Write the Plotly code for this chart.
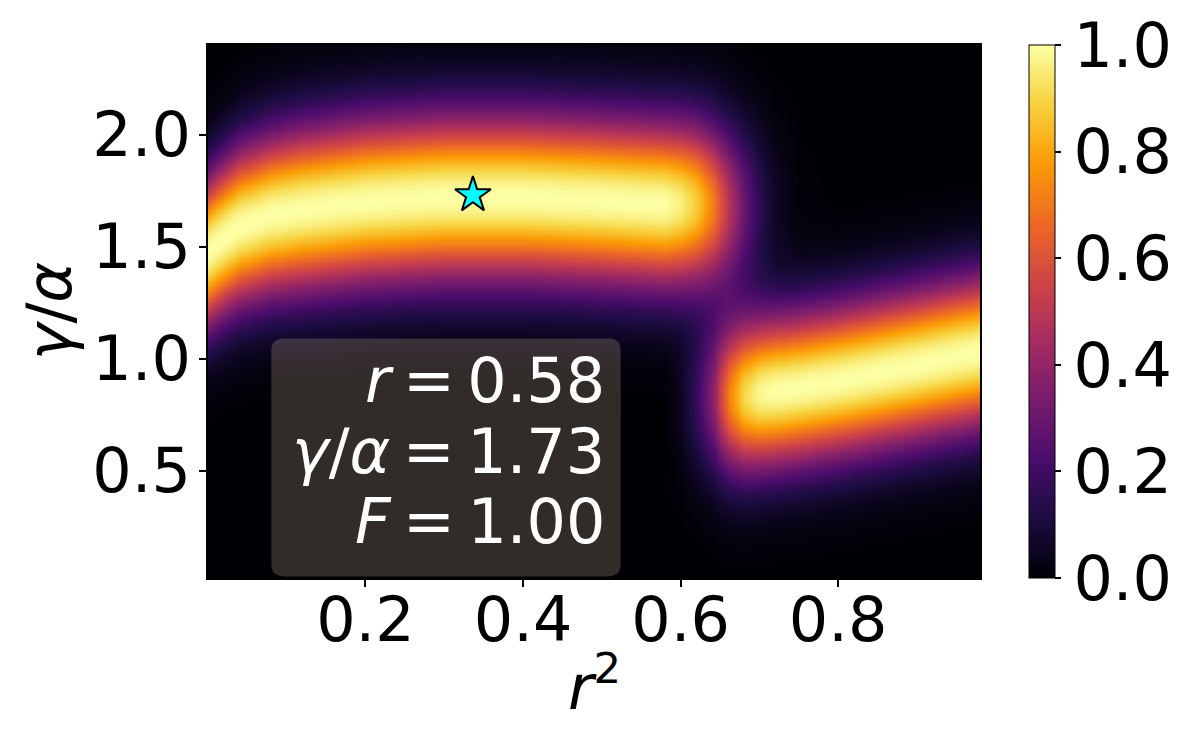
import numpy as np
import plotly.graph_objects as go

# ---- values ----
# sampled r^2 positions at which ridge parameters were read
r2_samples = [0.0, 0.02, 0.04, 0.08, 0.12, 0.2, 0.3, 0.4, 0.5, 0.58, 0.6, 0.62,
              0.64, 0.66, 0.68, 0.70, 0.72, 0.75, 0.8, 0.87, 0.98]
# upper ridge (left band)
band1_center = [1.48, 1.54, 1.59, 1.64, 1.665, 1.70, 1.72, 1.72, 1.705, 1.69, 1.69, 1.69,
                1.685, 1.68, 1.68, 1.68, 1.68, 1.68, 1.68, 1.68, 1.68]
band1_width = [0.23, 0.235, 0.24, 0.245, 0.25, 0.253, 0.254, 0.254, 0.254, 0.254, 0.254, 0.254,
               0.254, 0.254, 0.254, 0.254, 0.254, 0.254, 0.254, 0.254, 0.254]
band1_peak = [1.0, 1.0, 1.0, 1.0, 1.0, 1.0, 1.0, 1.0, 1.0, 1.0, 0.96, 0.88,
              0.72, 0.5, 0.3, 0.15, 0.06, 0.01, 0.0, 0.0, 0.0]
# lower ridge (right band)
band2_center = [0.8, 0.8, 0.8, 0.8, 0.8, 0.8, 0.8, 0.8, 0.8, 0.82, 0.82, 0.825,
                0.828, 0.83, 0.835, 0.845, 0.855, 0.87, 0.9, 0.95, 1.03]
band2_width = [0.24, 0.24, 0.24, 0.24, 0.24, 0.24, 0.24, 0.24, 0.24, 0.24, 0.24, 0.24,
               0.24, 0.238, 0.235, 0.233, 0.232, 0.232, 0.232, 0.232, 0.232]
band2_peak = [0.0, 0.0, 0.0, 0.0, 0.0, 0.0, 0.0, 0.0, 0.0, 0.0, 0.05, 0.17,
              0.36, 0.7, 0.9, 0.98, 1.0, 1.0, 1.0, 1.0, 1.0]

r2_range = [0.0001, 0.9801]
ratio_range = [0.02, 2.40]

best_r = 0.58
best_ratio = 1.73
best_F = 1.00
star_x = [best_r ** 2]
star_y = [best_ratio]

x_ticks = [0.2, 0.4, 0.6, 0.8]
y_ticks = [0.5, 1.0, 1.5, 2.0]
cb_ticks = [0.0, 0.2, 0.4, 0.6, 0.8, 1.0]

# ---- build field on a grid from the read ridge parameters ----
xs = np.linspace(r2_range[0], r2_range[1], 420)
ys = np.linspace(ratio_range[0], ratio_range[1], 320)
X, Y = np.meshgrid(xs, ys)
c1 = np.interp(xs, r2_samples, band1_center)
w1 = np.interp(xs, r2_samples, band1_width)
p1 = np.interp(xs, r2_samples, band1_peak)
c2 = np.interp(xs, r2_samples, band2_center)
w2 = np.interp(xs, r2_samples, band2_width)
p2 = np.interp(xs, r2_samples, band2_peak)
Z = p1 * np.exp(-(Y - c1) ** 2 / (2 * w1 ** 2)) + p2 * np.exp(-(Y - c2) ** 2 / (2 * w2 ** 2))
Z = np.clip(Z, 0, 1)

FONT = "DejaVu Sans"
FS = 62

fig = go.Figure()
fig.add_trace(go.Heatmap(
    x=xs, y=ys, z=Z, zmin=0, zmax=1, colorscale="Inferno", zsmooth="best",
    colorbar=dict(
        x=1.0635, xanchor="left", xref="paper", y=0.5, yanchor="middle", len=1.0,
        thickness=26, thicknessmode="pixels", outlinewidth=1, outlinecolor="black",
        tickvals=cb_ticks, ticktext=[f"{v:.1f}" for v in cb_ticks],
        ticks="outside", ticklen=6, tickwidth=1.5, tickcolor="black",
        tickfont=dict(family=FONT, size=FS, color="black"),
        xpad=0, ypad=0,
    ),
    showscale=True,
))

fig.add_trace(go.Scatter(
    x=star_x, y=star_y, mode="markers",
    marker=dict(symbol="star", size=27, color="cyan", line=dict(color="black", width=2)),
    showlegend=False,
))

# rounded info box
bx0, bx1, by0, by1 = 0.0805, 0.524, 0.027, 1.089
rx, ry = 0.016, 0.055
path = (f"M {bx0+rx},{by0} L {bx1-rx},{by0} Q {bx1},{by0} {bx1},{by0+ry} "
        f"L {bx1},{by1-ry} Q {bx1},{by1} {bx1-rx},{by1} L {bx0+rx},{by1} "
        f"Q {bx0},{by1} {bx0},{by1-ry} L {bx0},{by0+ry} Q {bx0},{by0} {bx0+rx},{by0} Z")
fig.add_shape(type="path", path=path, xref="x", yref="y",
              fillcolor="rgba(245,222,179,0.2)", line=dict(width=0), layer="above")

TS = "\u2009"
lines = [f"<i>r</i>{TS}={TS}{best_r:.2f}", f"<i>γ</i>/<i>α</i>{TS}={TS}{best_ratio:.2f}",
         f"<i>F</i>{TS}={TS}{best_F:.2f}"]
line_y = [0.90, 0.585, 0.272]
for t, yy in zip(lines, line_y):
    fig.add_annotation(x=0.5065, y=yy, xref="x", yref="y", text=t, showarrow=False,
                       xanchor="right", yanchor="middle",
                       font=dict(family=FONT, size=FS, color="white"))

# axis titles
fig.add_annotation(x=0.5, y=-0.197, xref="paper", yref="paper", text="<i>r</i><sup>2</sup>",
                   showarrow=False, xanchor="center", yanchor="middle",
                   font=dict(family=FONT, size=FS, color="black"))
fig.add_annotation(x=-0.205, y=0.5, xref="paper", yref="paper", text="<i>γ</i>/<i>α</i>",
                   showarrow=False, xanchor="center", yanchor="middle", textangle=-90,
                   font=dict(family=FONT, size=FS, color="black"))

axis_common = dict(
    showline=True, linecolor="black", linewidth=1.5, mirror=True,
    ticks="outside", ticklen=7, tickwidth=1.5, tickcolor="black",
    showgrid=False, zeroline=False, automargin=False,
    tickfont=dict(family=FONT, size=FS, color="black"),
)
fig.update_layout(
    width=1200, height=748,
    margin=dict(l=208, r=220, t=45, b=170, autoexpand=False),
    paper_bgcolor="white", plot_bgcolor="black",
    showlegend=False,
    xaxis=dict(range=r2_range, tickvals=x_ticks, ticktext=[f"{v:.1f}" for v in x_ticks],
               ticklabelstandoff=-20, **axis_common),
    yaxis=dict(range=ratio_range, tickvals=y_ticks, ticktext=[f"{v:.1f}" for v in y_ticks],
               ticklabelstandoff=-4, **axis_common),
)

fig.write_html("out.html", config={"displayModeBar": False},
               post_script="document.body.style.margin='0';")
